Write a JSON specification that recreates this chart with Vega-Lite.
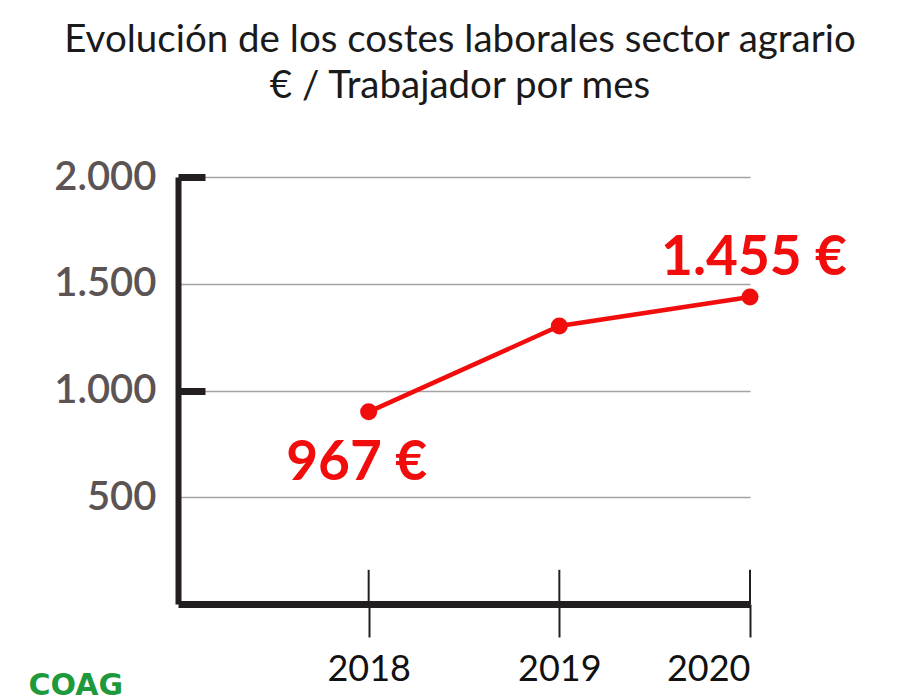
{
  "$schema": "https://vega.github.io/schema/vega-lite/v6.json",
  "width": 572,
  "height": 427,
  "autosize": {"type": "none"},
  "padding": {"left": 178, "top": 177, "right": 150, "bottom": 96},
  "background": "white",
  "title": {
    "text": ["Evolución de los costes laborales sector agrario", "€ / Trabajador por mes"],
    "anchor": "middle",
    "frame": "group",
    "font": "Lato",
    "fontSize": 38.5,
    "fontWeight": "normal",
    "color": "#1a1a1a",
    "lineHeight": 46,
    "baseline": "bottom",
    "offset": 13,
    "dx": -4
  },
  "config": {
    "view": {"stroke": null},
    "axis": {"labelFont": "Lato", "titleFont": "Lato"}
  },
  "data": {
    "values": [
      {"year": 2018, "value": 900, "label": "967 €"},
      {"year": 2019, "value": 1302, "label": ""},
      {"year": 2020, "value": 1438, "label": "1.455 €"}
    ]
  },
  "encoding": {
    "x": {
      "field": "year",
      "type": "quantitative",
      "scale": {"domain": [2017, 2020], "nice": false, "zero": false},
      "axis": {
        "values": [2018, 2019, 2020],
        "format": "d",
        "grid": false,
        "domain": true,
        "domainColor": "#231f20",
        "domainWidth": 7,
        "ticks": true,
        "tickSize": 33,
        "tickWidth": 2,
        "tickColor": "#231f20",
        "labelFontSize": 36,
        "labelColor": "#111111",
        "labelPadding": 15,
        "title": "COAG",
        "titleColor": "#1e9a3c",
        "titleFont": "DejaVu Sans",
        "titleFontSize": 30,
        "titleFontWeight": "bold",
        "titleAnchor": "start",
        "titleAlign": "left",
        "titleBaseline": "top",
        "titleX": -150,
        "titleY": 66
      }
    },
    "y": {
      "field": "value",
      "type": "quantitative",
      "scale": {"domain": [0, 2000], "nice": false},
      "axis": {
        "values": [500, 1000, 1500, 2000],
        "labelExpr": "replace(format(datum.value, ','), ',', '.')",
        "grid": true,
        "gridColor": "#a3a3a3",
        "gridWidth": 1.5,
        "domain": true,
        "domainColor": "#231f20",
        "domainWidth": 6,
        "ticks": true,
        "tickSize": -27,
        "tickWidth": 7,
        "tickColor": "#231f20",
        "tickOpacity": {"condition": {"test": "datum.value % 1000 === 0", "value": 1}, "value": 0},
        "labelFontSize": 40,
        "labelFontWeight": 600,
        "labelColor": "#5b5354",
        "labelPadding": 49,
        "title": null
      }
    }
  },
  "layer": [
    {
      "mark": {"type": "rule", "color": "#231f20", "strokeWidth": 2},
      "encoding": {
        "y": {"datum": 0},
        "y2": {"datum": 160}
      }
    },
    {
      "mark": {"type": "line", "color": "#f20d0d", "strokeWidth": 4.5}
    },
    {
      "mark": {"type": "point", "filled": true, "opacity": 1, "color": "#f20d0d", "size": 290}
    },
    {
      "transform": [{"filter": "datum.year === 2018"}],
      "mark": {"type": "text", "font": "Lato", "fontSize": 55, "fontWeight": "bold", "color": "#f20d0d", "baseline": "alphabetic", "align": "center", "dx": -12, "dy": 68},
      "encoding": {"text": {"field": "label"}}
    },
    {
      "transform": [{"filter": "datum.year === 2020"}],
      "mark": {"type": "text", "font": "Lato", "fontSize": 55, "fontWeight": "bold", "color": "#f20d0d", "baseline": "alphabetic", "align": "center", "dx": 4, "dy": -22},
      "encoding": {"text": {"field": "label"}}
    }
  ]
}
